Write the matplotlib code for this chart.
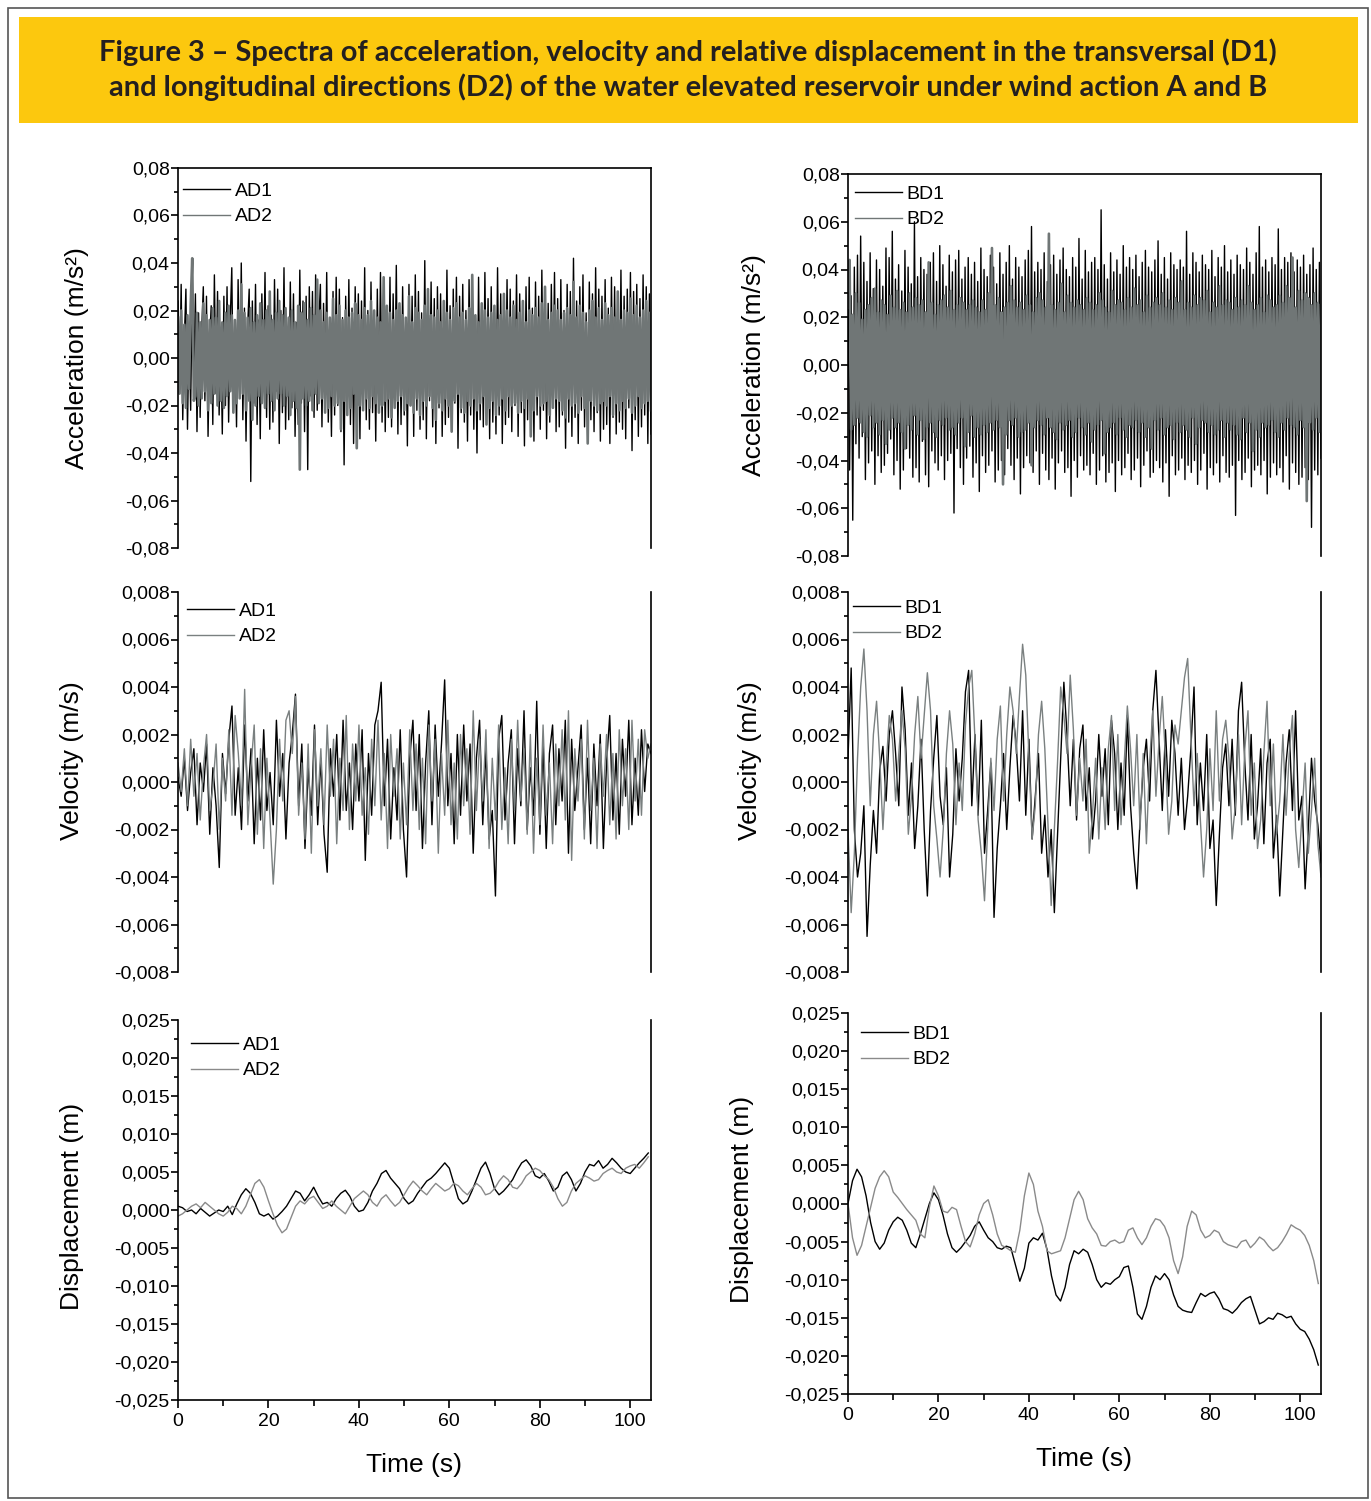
import numpy as np
import matplotlib
matplotlib.use("Agg")
import matplotlib.pyplot as plt
from matplotlib.patches import Rectangle
from matplotlib.ticker import MultipleLocator, FuncFormatter

plt.rcParams['font.family'] = ['Liberation Sans', 'DejaVu Sans']
plt.rcParams['axes.unicode_minus'] = False

# ---------------- data ----------------
T_END = 104.6

# acceleration, units of 0.001 m/s2
acc_AD1 = np.array([
    24, -12, 31, -26, 8, 29, -30, 14, -22, 33, -9, 27, -31, 19, -25, 12, 30, -18, 26, -33, 7, 22, -28, 35, -15, 28, -24, 11, -32, 26,
    -20, 30, -27, 15, 38, -22, 9, -29, 33, -17, 40, -26, 21, -35, 13, 29, -52, 24, -19, 31, -28, 16, -34, 27, -12, 36, -25, 22, -30, 18,
    -27, 33, -14, 29, -36, 20, -23, 38, -30, 11, -26, 32, -21, 27, -33, 15, -28, 37, -19, 24, -31, 26, -47, 30, -16, 28, -25, 35, -22, 14,
    31, -29, 23, -18, 36, -27, 12, -33, 28, -24, 34, -20, 29, -31, 17, -45, 26, -22, 33, -28, 21, -36, 30, -15, 27, -34, 24, -19, 38, -26,
    20, -30, 32, -23, 15, -35, 29, -21, 36, -27, 23, -31, 18, -25, 34, -29, 27, -16, 39, -32, 22, -28, 30, -24, 17, -37, 31, -20, 26, -33,
    35, -22, 28, -30, 19, -26, 41, -34, 24, -18, 32, -29, 25, -36, 30, -21, 27, -33, 16, -28, 37, -25, 22, -31, 29, -19, 34, -38, 26, -23,
    31, -27, 20, -35, 33, -24, 28, -30, 17, -40, 34, -26, 23, -29, 36, -21, 25, -34, 30, -27, 19, -32, 38, -24, 27, -36, 22, -28, 33, -25,
    29, -31, 24, -20, 35, -33, 27, -23, 18, -37, 30, -26, 34, -29, 21, -35, 32, -24, 26, -30, 37, -22, 28, -34, 23, -27, 31, -19, 36, -31,
    25, -29, 33, -24, 20, -38, 31, -27, 28, -33, 42, -25, 24, -36, 30, -22, 35, -29, 19, -34, 32, -26, 27, -31, 38, -23, 29, -35, 26, -30,
    33, -28, 21, -36, 34, -25, 30, -32, 24, -27, 37, -30, 26, -34, 29, -21, 36, -39, 28, -26, 31, -33, 25, -29, 35, -24, 30, -36, 27, -32]) / 1000
acc_AD2 = np.array([
    17, -15, 20, -19, 14, -21, 18, -13, 22, 42, -18, -16, 19, -20, 15, -17, 23, -14, 18, -22, 16, -19, 21, -15, 17, -20, 24, -18, 15, -21,
    19, -16, 22, -14, 18, -23, 16, -19, 20, -17, 31, -15, 19, -22, 17, -18, 21, -26, 15, -20, 18, -16, 23, -19, 16, -21, 20, -15, 28, -18,
    16, -22, 19, -17, 24, -15, 18, -20, 21, -16, 17, -24, 20, -18, 15, -21, 22, -47, 19, -17, 23, -20, 16, -18, 21, -22, 18, -15, 33, -19,
    20, -17, 15, -23, 19, -21, 17, -16, 25, -20, 18, -19, 22, -30, 16, -18, 20, -24, 17, -21, 19, -15, 23, -38, 18, -20, 16, -22, 21, -17,
    18, -21, 24, -16, 20, -19, 17, -23, 15, -20, 34, -18, 22, -17, 19, -25, 16, -21, 20, -18, 23, -16, 18, -22, 17, -19, 26, -20, 15, -23,
    21, -17, 19, -24, 16, -18, 22, -20, 29, -16, 18, -21, 17, -26, 20, -19, 15, -22, 24, -17, 19, -20, 16, -31, 21, -18, 23, -15, 17, -21,
    19, -23, 16, -18, 21, -20, 35, -17, 18, -22, 15, -19, 23, -16, 20, -28, 17, -21, 19, -18, 22, -24, 16, -20, 18, -17, 27, -22, 20, -16,
    17, -20, 22, -19, 16, -23, 19, -18, 24, -21, 15, -17, 20, -33, 18, -22, 21, -16, 17, -20, 23, -19, 30, -18, 16, -24, 19, -21, 22, -17,
    20, -18, 16, -22, 19, -25, 21, -17, 18, -20, 32, -19, 17, -23, 22, -16, 19, -21, 15, -36, 20, -18, 24, -20, 17, -22, 21, -19, 16, -18,
    23, -20, 18, -16, 21, -24, 17, -19, 28, -22, 16, -18, 20, -21, 19, -17, 25, -23, 18, -20, 22, -16, 17, -21, 20, -19, 24, -18, 19, -22]) / 1000
acc_BD1 = np.array([
    38, -44, 29, -65, 41, -33, 46, -39, 54, -30, 43, -48, 35, -41, 47, -36, 32, -50, 44, -38, 40, -45, 33, -42, 49, -37, 45, -31, 56, -46,
    36, -40, 42, -52, 31, -44, 48, -35, 41, -39, 34, -47, 60, -43, 37, -49, 45, -32, 40, -46, 38, -51, 43, -36, 47, -41, 35, -44, 50, -38,
    42, -48, 33, -40, 46, -37, 39, -62, 44, -35, 48, -43, 36, -50, 41, -39, 45, -34, 38, -47, 43, -41, 35, -53, 49, -38, 40, -45, 37, -42,
    46, -36, 41, -49, 34, -44, 47, -40, 38, -46, 43, -35, 50, -42, 36, -48, 45, -39, 41, -54, 37, -43, 44, -38, 48, -41, 58, -45, 39, -36,
    43, -50, 40, -37, 47, -44, 35, -48, 42, -39, 46, -52, 38, -41, 44, -36, 49, -45, 40, -43, 37, -55, 45, -40, 41, -47, 53, -38, 36, -44,
    48, -42, 39, -46, 43, -37, 45, -50, 40, -44, 65, -38, 42, -49, 36, -45, 47, -41, 39, -53, 44, -40, 38, -46, 50, -43, 41, -37, 45, -48,
    40, -44, 46, -39, 37, -51, 43, -42, 48, -36, 41, -47, 39, -45, 44, -40, 52, -43, 38, -49, 45, -41, 36, -55, 47, -38, 42, -46, 40, -44,
    44, -39, 41, -48, 56, -42, 38, -45, 47, -40, 43, -50, 39, -44, 46, -37, 42, -52, 40, -43, 48, -46, 37, -41, 45, -49, 41, -38, 50, -45,
    39, -47, 44, -42, 38, -63, 46, -40, 42, -48, 40, -45, 49, -39, 43, -51, 38, -44, 47, -42, 58, -46, 41, -40, 44, -54, 39, -47, 45, -41,
    42, -46, 57, -43, 40, -49, 45, -38, 43, -52, 47, -41, 39, -45, 44, -50, 41, -47, 46, -43, 38, -48, 42, -68, 49, -44, 40, -46, 43, -39]) / 1000
acc_BD2 = np.array([
    24, 44, -27, 21, -25, 30, -22, 26, -24, 19, -28, 23, -30, 25, -21, 28, -26, 32, -24, 22, -29, 27, -23, 25, -33, 21, -27, 29, -22, 24,
    -26, 31, -24, 23, -28, 26, -35, 22, -25, 30, -27, 24, -21, 28, -29, 25, -23, 27, -31, 22, -26, 43, -24, 26, -28, 21, -30, 25, -23, 27,
    -25, 29, -22, 24, -27, 31, -26, 23, -29, 25, -24, 28, -22, 26, -34, 23, -28, 25, -21, 27, -30, 24, -26, 22, -29, 27, -25, 23, -28, 30,
    -24, 49, -27, 25, -23, 28, -26, 22, -50, 24, -29, 26, -23, 33, -25, 27, -22, 24, -30, 26, -28, 23, -27, 29, -24, 25, -42, 22, -26, 28,
    -23, 30, -25, 27, -29, 24, -22, 55, -26, 25, -28, 23, -31, 26, -24, 34, -27, 22, -25, 29, -23, 26, -30, 24, -28, 27, -22, 25, -26, 23,
    -29, 28, -24, 26, -32, 23, -27, 25, -25, 30, -23, 27, -37, 24, -28, 22, -26, 31, -24, 25, -29, 27, -22, 26, -27, 23, -30, 28, -25, 24,
    -26, 32, -23, 25, -28, 27, -24, 22, -30, 29, -26, 24, -35, 26, -23, 28, -27, 25, -22, 30, -29, 24, -26, 27, -25, 23, -31, 28, -24, 26,
    -28, 35, -25, 23, -27, 26, -30, 24, -22, 29, -33, 25, -26, 28, -23, 27, -24, 31, -28, 22, -25, 26, -29, 24, -27, 33, -23, 25, -30, 27,
    -24, 26, -27, 23, -25, 28, -29, 24, -31, 27, -22, 25, -28, 33, -24, 26, -36, 23, -27, 25, -30, 28, -24, 22, -26, 29, -25, 27, -23, 24,
    -28, 25, -30, 29, -24, 26, -27, 33, -22, 28, -25, 45, -26, 24, -29, 31, -23, 27, -26, 30, -57, 28, -24, 25, -27, 30, -22, 26, -28, 25]) / 1000

# velocity, units of 0.0001 m/s
vel_AD1 = np.array([
    2, -6, 10, -12, 4, 14, -18, 8, -4, 16, -22, 6, -10, -36, 12,
    -5, 18, 32, -14, 6, -20, 24, -8, 14, -26, 10, -16, 22, -12, 4,
    -18, 26, -6, 12, -24, 8, 20, 37, -10, 16, -28, 6, -14, 24, -18,
    10, -22, -38, 14, -6, 20, -16, 26, -12, 8, -20, 16, -8, 22, -33,
    12, -14, 24, 30, 42, -10, 18, -24, 6, -16, 22, -20, -40, 10, 26,
    -12, 20, -28, 8, 30, -18, 24, -6, 16, 43, -10, 12, -26, 20, -14,
    24, -8, 16, -30, 10, 26, -18, 14, -24, -12, -48, 18, 28, -16, 8,
    22, -26, 14, -10, 30, -20, 6, -14, 34, -22, 16, -28, 12, 24, -18,
    14, -8, 26, -30, 18, -12, 6, 24, -20, 10, -26, 16, -10, 20, -28,
    8, 28, -16, 12, -22, 18, -6, 26, -18, 10, -14, 22, -4, 16, 12]) / 10000
vel_AD2 = np.array([
    8, -4, 14, -10, 18, -6, 12, -16, 6, 20, -12, -2, 16, -20, 10,
    -8, 22, -14, 28, 12, -10, 39, -18, 6, 24, -22, 14, -28, 10, -16,
    -43, -20, 18, -8, 26, 30, 12, 36, -14, 8, -24, 16, -30, 22, -10,
    14, -18, 24, -6, 18, -26, 10, -12, 28, -20, 16, -8, 24, -14, 6,
    -22, 18, -10, 26, -16, 12, -28, 20, -6, 14, -24, 8, -18, 22, -12,
    16, -20, 10, -26, 24, -8, 18, -30, 12, -14, 26, -18, 8, -24, 20,
    -10, 14, -22, 30, -12, 18, -8, 22, -28, 10, -16, 24, -20, 6, -26,
    18, -12, 26, -8, 14, -22, 20, -30, 10, -18, 24, -14, 8, -26, 16,
    -10, 22, -16, 30, -33, 14, -8, 18, -24, 26, -12, 10, -28, 16, -6,
    20, -18, 12, -24, 22, -10, 14, -20, 26, -8, 18, -14, 22, 10, 16]) / 10000
vel_BD1 = np.array([
    10, 48, -20, -40, -30, -10, -65, -35, -12, -30, 5, 15, -8, 20, 30,
    12, -10, 40, 22, -14, 8, -28, -10, 18, -20, -48, -12, 10, 28, -6,
    -18, 6, -40, -22, 14, -8, 10, 38, 47, -10, 20, -14, 26, -30, -12,
    8, -57, -28, -10, 12, -20, 6, 28, 16, -8, 30, -14, 18, -24, -6,
    12, -30, -14, -40, -20, -55, -22, 10, 42, 20, -10, 18, -16, 14, 24,
    -12, 6, -24, -8, 20, -6, 14, -18, 26, 12, -20, 8, -14, 28, -10,
    -30, -45, -16, 6, 18, -8, 30, 47, 18, -12, 22, -6, 26, 12, -14,
    10, -20, -6, 14, 40, -18, 8, -12, 20, -28, -16, -52, -22, 6, 16,
    -10, 18, -14, 30, 42, 8, -16, 20, -24, -10, 14, -26, 8, 18, -32,
    -14, -48, -20, 8, 22, -12, 30, -16, -6, -45, -20, 10, -8, -18, -34]) / 10000
vel_BD2 = np.array([
    -20, -55, -30, 10, 40, 56, 30, -10, 20, 34, 10, -20, 6, 28, 18,
    -8, 12, 30, 14, -22, -6, 20, 36, 10, 28, 46, 30, -10, -24, -40,
    -20, 12, 30, 16, -18, 8, -12, 24, 40, 47, 18, -16, -30, -50, -20,
    10, -12, 18, 32, -8, 20, 40, 30, 12, 36, 58, 45, 10, -24, -10,
    20, 34, 14, -18, -52, -20, 8, 40, 28, 12, 45, 22, -14, 10, -8,
    18, -30, -14, 10, -24, 6, -20, 14, 28, -12, 20, -18, 8, 32, 14,
    -10, 20, -20, 12, -26, 8, 30, -6, 18, 36, 10, -22, -8, 24, 16,
    30, 44, 52, 20, -10, 12, -16, -40, -20, 14, -12, 30, -8, 18, 26,
    10, -24, -10, 20, -18, 14, 30, -14, 8, -28, -16, 12, 34, -10, 16,
    -22, -8, 20, -14, 12, 28, -20, -36, -14, 8, -30, -12, 10, -26, -40]) / 10000

# displacement, units of 0.0001 m, one value per second (t = 0 .. 104)
dis_AD1 = np.array([
    5, 3, -2, 0, -5, 2, -3, -8, -4, 0, -2, 5, -6, 8, 20, 28, 22, 10, -5, -8,
    -5, -12, -8, -2, 5, 15, 25, 22, 12, 20, 30, 18, 8, 10, 5, 15, 22, 26, 18, 5,
    -2, 0, 10, 25, 35, 48, 52, 42, 35, 28, 15, 8, 12, 22, 30, 38, 42, 48, 55, 62,
    55, 35, 15, 8, 12, 25, 40, 55, 63, 48, 28, 20, 25, 32, 40, 52, 62, 66, 58, 45,
    42, 48, 38, 25, 30, 45, 50, 40, 25, 35, 50, 60, 58, 65, 55, 60, 68, 62, 55, 50,
    48, 55, 62, 68, 75]) / 10000
dis_AD2 = np.array([
    -8, -5, 0, 5, 8, 3, 10, 5, 0, -5, -8, -3, 5, 2, -5, 5, 20, 35, 40, 30,
    12, -5, -20, -30, -25, -10, 5, 12, 8, 15, 18, 10, 2, 5, 12, 5, 0, -5, 5, 15,
    20, 25, 20, 10, 5, 15, 20, 12, 5, 10, 20, 30, 38, 32, 25, 20, 28, 35, 30, 25,
    28, 35, 32, 25, 20, 28, 35, 30, 20, 22, 28, 38, 45, 40, 30, 28, 35, 45, 50, 55,
    52, 45, 40, 30, 15, 5, 10, 25, 35, 40, 45, 42, 38, 40, 48, 52, 55, 50, 48, 55,
    58, 60, 55, 62, 70]) / 10000
dis_BD1 = np.array([
    0, 30, 45, 35, 10, -25, -50, -60, -52, -35, -24, -18, -22, -35, -52, -58, -40, -20, 0, 14,
    5, -15, -40, -58, -64, -58, -50, -42, -30, -24, -35, -45, -50, -58, -60, -56, -58, -80, -102, -85,
    -52, -45, -48, -39, -60, -95, -120, -128, -110, -80, -62, -66, -60, -64, -80, -100, -110, -104, -106, -100,
    -96, -84, -82, -110, -145, -152, -135, -110, -95, -100, -92, -100, -120, -135, -140, -142, -143, -130, -118, -122,
    -118, -116, -125, -138, -140, -144, -138, -130, -125, -122, -140, -158, -155, -150, -152, -144, -146, -150, -148, -158,
    -165, -168, -178, -192, -212]) / 10000
dis_BD2 = np.array([
    0, -45, -68, -55, -30, -5, 20, 35, 43, 35, 15, 8, 0, -8, -15, -22, -40, -45, -5, 23,
    10, -10, -12, -5, -8, -30, -50, -57, -40, -15, 0, 5, -15, -40, -55, -58, -62, -64, -35, 10,
    40, 25, -10, -30, -62, -66, -64, -62, -45, -20, 5, 16, 5, -20, -32, -40, -55, -56, -50, -48,
    -52, -50, -35, -32, -45, -54, -45, -30, -20, -22, -30, -45, -75, -92, -70, -30, -10, -15, -35, -45,
    -42, -35, -38, -50, -54, -56, -58, -50, -48, -58, -52, -44, -48, -56, -62, -58, -50, -40, -28, -32,
    -35, -42, -55, -75, -105]) / 10000

labels_A = ["AD1", "AD2"]
labels_B = ["BD1", "BD2"]

# ---------------- figure ----------------
fig = plt.figure(figsize=(13.71, 15.01), dpi=100)
W, H = 1371, 1501

fig.patches.append(Rectangle((8 / W, 1 - 1498 / H), 1360 / W, 1490 / H, transform=fig.transFigure,
                             fill=False, edgecolor="#555555", linewidth=1.2))
fig.patches.append(Rectangle((19 / W, 1 - 123 / H), 1339 / W, 106 / H, transform=fig.transFigure,
                             facecolor="#fcc80e", edgecolor="none"))
fig.text(688 / W, 1 - 52 / H,
         "Figure 3 – Spectra of acceleration, velocity and relative displacement in the transversal (D1)",
         ha="center", va="center", fontsize=20.9, fontweight="bold", color="#231f20", family="Lato")
fig.text(688 / W, 1 - 87 / H,
         "and longitudinal directions (D2) of the water elevated reservoir under wind action A and B",
         ha="center", va="center", fontsize=20.9, fontweight="bold", color="#231f20", family="Lato")


def fmt(dec):
    def f(v, _):
        if abs(v) < 1e-12:
            v = 0.0
        return f"{v:.{dec}f}".replace(".", ",")
    return FuncFormatter(f)


def make_ax(x0, y0, x1, y1):
    return fig.add_axes([x0 / W, 1 - y1 / H, (x1 - x0) / W, (y1 - y0) / H])


def style(ax, lim, major, dec, top, bottom):
    ax.set_xlim(0, T_END)
    ax.set_ylim(-lim, lim)
    ax.yaxis.set_major_locator(MultipleLocator(major))
    ax.yaxis.set_minor_locator(MultipleLocator(major / 2))
    ax.yaxis.set_major_formatter(fmt(dec))
    ax.tick_params(axis="y", which="major", direction="out", length=5, width=1.2, labelsize=14, pad=1)
    ax.tick_params(axis="y", which="minor", direction="out", length=3, width=1.2)
    for s in ax.spines.values():
        s.set_linewidth(1.2)
    ax.spines["top"].set_visible(top)
    ax.spines["bottom"].set_visible(bottom)
    if bottom:
        ax.xaxis.set_major_locator(MultipleLocator(20))
        ax.xaxis.set_minor_locator(MultipleLocator(10))
        ax.tick_params(axis="x", which="major", direction="out", length=6, width=1.2, labelsize=14, pad=3)
        ax.tick_params(axis="x", which="minor", direction="out", length=4, width=1.2)
        ax.set_xlabel("Time (s)", fontsize=19, labelpad=17)
    else:
        ax.tick_params(axis="x", which="both", bottom=False, labelbottom=False)


def legend(ax, labels, dx, dy, height):
    ax.legend(labels, loc="upper left", frameon=False, fontsize=14, handlelength=2.4,
              handletextpad=0.25, labelspacing=0.42, borderaxespad=0, borderpad=0,
              bbox_to_anchor=(dx / 473, 1 - dy / height))


cols = [
    (178, 651, [(168, 548), (592, 972), (1020, 1400)], labels_A,
     [acc_AD1, acc_AD2], [vel_AD1, vel_AD2], [dis_AD1, dis_AD2],
     [(-0.188, 0.5), (-0.198, 0.555), (-0.198, 0.51)], [(5, 14), (9, 10), (13, 16)]),
    (848, 1321, [(174, 556), (592, 972), (1013, 1394)], labels_B,
     [acc_BD1, acc_BD2], [vel_BD1, vel_BD2], [dis_BD1, dis_BD2],
     [(-0.173, 0.5), (-0.181, 0.555), (-0.198, 0.51)], [(7, 11), (5, 7), (13, 12)]),
]

for x0, x1, rows, labs, acc, vel, dis, lab_pos, leg_pos in cols:
    # acceleration
    ax = make_ax(x0, rows[0][0], x1, rows[0][1])
    ax.plot(np.linspace(0, T_END, len(acc[0])), acc[0], color="black", lw=1.0)
    ax.plot(np.linspace(0, T_END, len(acc[1])), acc[1], color="#707676", lw=1.9)
    style(ax, 0.08, 0.02, 2, True, False)
    ax.set_ylabel("Acceleration (m/s²)", fontsize=19)
    ax.yaxis.set_label_coords(*lab_pos[0])
    legend(ax, labs, *leg_pos[0], rows[0][1] - rows[0][0])
    for h in ax.get_legend().get_lines():
        h.set_linewidth(1.0)

    # velocity
    ax = make_ax(x0, rows[1][0], x1, rows[1][1])
    ax.plot(np.linspace(0, T_END, len(vel[0])), vel[0], color="black", lw=1.0)
    ax.plot(np.linspace(0, T_END, len(vel[1])), vel[1], color="#7a8080", lw=1.0)
    style(ax, 0.008, 0.002, 3, False, False)
    ax.set_ylabel("Velocity (m/s)", fontsize=19)
    ax.yaxis.set_label_coords(*lab_pos[1])
    legend(ax, labs, *leg_pos[1], rows[1][1] - rows[1][0])

    # displacement
    ax = make_ax(x0, rows[2][0], x1, rows[2][1])
    ax.plot(np.arange(len(dis[0])), dis[0], color="black", lw=1.0)
    ax.plot(np.arange(len(dis[1])), dis[1], color="#8a8a8a", lw=1.0)
    style(ax, 0.025, 0.005, 3, False, True)
    ax.set_ylabel("Displacement (m)", fontsize=19)
    ax.yaxis.set_label_coords(*lab_pos[2])
    legend(ax, labs, *leg_pos[2], rows[2][1] - rows[2][0])

fig.savefig("out.png", dpi=100)
